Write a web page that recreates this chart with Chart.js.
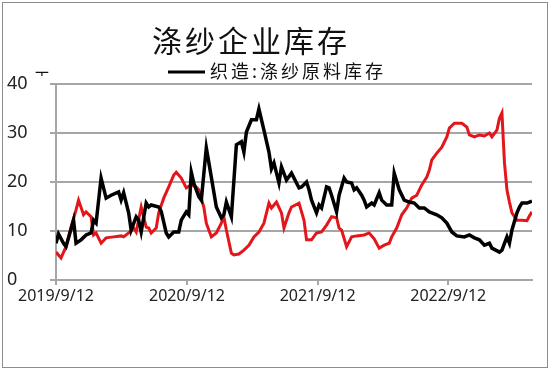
<!DOCTYPE html>
<html>
<head>
<meta charset="utf-8">
<script src="https://cdn.jsdelivr.net/npm/chart.js@4/dist/chart.umd.min.js"></script>
<style>
  body { margin: 0; background: #fff; }
  #wrap { width: 550px; height: 371px; }
</style>
</head>
<body>
<div id="wrap"><canvas id="chart" width="550" height="371"></canvas></div>
<script>
// weeks counted from 2019/9/12
const startDate = '2019/9/12';
const tickDates = ['2019/9/12', '2020/9/12', '2021/9/12', '2022/9/12'];

const blackWeeks = [0, 1, 3, 4, 7, 8, 10, 12, 14, 15, 16, 18, 20, 22, 25, 26, 27, 29, 30, 32,
  33, 34, 36, 37, 38, 41, 42, 44, 45, 47, 49, 50, 52, 53, 54, 55, 56, 57, 58, 60,
  62, 64, 66, 67, 68, 70, 72, 74, 75, 76, 78, 80, 81, 83, 85, 86, 87, 89, 90, 92,
  94, 96, 97, 98, 100, 101, 102, 104, 105, 106, 108, 109, 110, 112, 113, 115, 116, 118, 119, 120,
  122, 123, 124, 126, 127, 129, 130, 132, 134, 135, 137, 139, 141, 143, 145, 147, 149, 150, 152, 154,
  156, 158, 160, 163, 165, 167, 169, 171, 173, 174, 177, 178, 180, 181, 182, 184, 185, 186, 188, 190];
const blackValues = [7.5, 9.4, 7.5, 6.8, 12.2, 7.5, 8.2, 9.2, 9.6, 12.2, 11.6, 20.8, 16.7, 17.3, 18.0, 16.3, 17.8, 13.7, 10.2, 12.9,
  12.2, 9.8, 15.7, 14.9, 15.3, 14.9, 14.0, 9.6, 8.8, 9.8, 9.8, 12.2, 13.9, 13.3, 22.0, 19.8, 18.4, 17.0, 16.3, 27.0,
  21.0, 14.9, 12.7, 13.3, 15.9, 12.9, 27.6, 28.2, 26.1, 30.2, 32.7, 32.7, 34.9, 30.6, 26.1, 22.7, 23.9, 19.8, 23.1, 20.4,
  21.8, 19.8, 18.8, 19.0, 20.0, 18.4, 16.3, 13.7, 15.3, 14.7, 19.0, 18.8, 17.3, 13.9, 17.3, 20.8, 20.0, 19.8, 18.4, 18.8,
  17.3, 16.3, 14.9, 15.7, 15.3, 17.8, 16.3, 15.3, 15.3, 21.8, 18.4, 16.3, 15.9, 15.7, 14.7, 14.7, 13.9, 13.7, 13.3, 12.7,
  11.6, 9.8, 9.0, 8.8, 9.2, 8.6, 8.2, 7.1, 7.5, 6.5, 5.7, 6.1, 8.8, 7.5, 10.2, 13.7, 14.9, 15.7, 15.7, 16.1];

const redWeeks = [0, 2, 4, 6, 8, 9, 11, 12, 14, 15, 16, 18, 20, 23, 26, 27, 29, 31, 32, 34,
  36, 37, 38, 40, 41, 43, 45, 47, 48, 50, 52, 54, 56, 57, 59, 60, 62, 64, 66, 67,
  68, 70, 71, 73, 75, 77, 79, 81, 83, 85, 86, 88, 90, 91, 93, 94, 97, 99, 100, 102,
  104, 106, 108, 110, 112, 113, 114, 116, 118, 120, 123, 125, 127, 129, 131, 133, 134, 136, 138, 140,
  142, 144, 146, 148, 149, 150, 152, 154, 156, 157, 159, 162, 164, 165, 167, 169, 171, 173, 174, 176,
  177, 178, 179, 180, 181, 182, 184, 186, 188, 189, 190];
const redValues = [5.7, 4.5, 6.8, 10.8, 14.3, 16.3, 13.3, 13.9, 12.9, 9.2, 9.6, 7.5, 8.6, 8.8, 9.0, 8.8, 9.6, 10.6, 9.8, 14.9,
  10.8, 10.6, 9.6, 10.6, 13.7, 16.7, 19.0, 21.4, 22.0, 20.8, 18.8, 19.4, 19.0, 18.4, 14.9, 11.6, 8.8, 9.6, 11.6, 12.9,
  10.2, 5.5, 5.1, 5.3, 6.1, 7.1, 8.8, 9.8, 11.6, 15.7, 14.7, 15.9, 13.7, 10.6, 13.7, 14.9, 15.7, 12.2, 8.2, 8.2,
  9.6, 9.8, 11.2, 12.9, 12.7, 10.6, 10.2, 6.8, 8.8, 9.0, 9.2, 9.6, 8.4, 6.5, 7.1, 7.5, 8.8, 10.6, 13.3, 14.7,
  16.7, 17.3, 19.4, 21.0, 22.4, 24.5, 25.9, 27.1, 29.2, 31.0, 32.0, 32.0, 31.2, 29.6, 29.2, 29.6, 29.4, 30.0, 29.2, 30.6,
  33.0, 34.1, 24.0, 18.4, 15.9, 13.7, 12.2, 12.2, 12.1, 13.1, 13.9];

const yTicks = [0, 10, 20, 30, 40];

function weeksFrom(d) {
  return (new Date(d) - new Date(startDate)) / (7 * 24 * 3600 * 1000);
}
const tickWeeks = tickDates.map(weeksFrom);

function toPoints(weeks, values) {
  return weeks.map((w, i) => ({ x: w, y: values[i] }));
}

const gridColor = '#a6a6a6';

// title, legend, unit and outer frame
const decorPlugin = {
  id: 'decor',
  afterDraw(chart) {
    const ctx = chart.ctx;
    ctx.save();
    ctx.strokeStyle = '#8c8c8c';
    ctx.lineWidth = 1;
    ctx.strokeRect(2.5, 2.5, 545, 365);

    ctx.fillStyle = '#111';
    ctx.textBaseline = 'middle';
    ctx.textAlign = 'center';
    ctx.font = '30px "Noto Sans CJK SC"';
    ctx.letterSpacing = '3px';
    ctx.fillText('涤纱企业库存', 251, 41);

    ctx.strokeStyle = '#000';
    ctx.lineWidth = 3;
    ctx.beginPath();
    ctx.moveTo(168, 72);
    ctx.lineTo(205, 72);
    ctx.stroke();
    ctx.textAlign = 'left';
    ctx.font = '18px "Noto Sans CJK SC"';
    ctx.letterSpacing = '3px';
    ctx.fillText('织造:涤纱原料库存', 210, 71);

    ctx.letterSpacing = '0px';
    ctx.beginPath();
    ctx.rect(30, 60, 20, 16);
    ctx.clip();
    ctx.font = '16px "Noto Sans CJK SC"';
    ctx.textAlign = 'center';
    ctx.fillText('天', 42, 78);
    ctx.restore();
  }
};

new Chart(document.getElementById('chart'), {
  type: 'line',
  data: {
    datasets: [
      {
        label: '织造:涤纱原料库存',
        data: toPoints(blackWeeks, blackValues),
        borderColor: '#000',
        backgroundColor: '#000',
        borderWidth: 3.5,
        pointRadius: 0,
        tension: 0
      },
      {
        label: '',
        data: toPoints(redWeeks, redValues),
        borderColor: '#e3171b',
        backgroundColor: '#e3171b',
        borderWidth: 3,
        pointRadius: 0,
        tension: 0
      }
    ]
  },
  options: {
    responsive: false,
    animation: false,
    layout: { padding: { top: 84, left: 7, right: 18, bottom: 61 } },
    plugins: {
      legend: { display: false },
      title: { display: false },
      tooltip: { enabled: false }
    },
    scales: {
      x: {
        type: 'linear',
        min: 0,
        max: 190,
        afterFit(scale) { scale.height = 30; },
        afterBuildTicks(scale) {
          scale.ticks = tickWeeks.map(v => ({ value: v }));
        },
        ticks: {
          autoSkip: false,
          maxRotation: 0,
          padding: 2,
          color: '#222',
          font: { family: 'Noto Sans', size: 16 },
          callback: (v, i) => tickDates[i]
        },
        grid: { drawOnChartArea: false, color: gridColor, lineWidth: 2, tickLength: 5 },
        border: { color: gridColor, width: 2 }
      },
      y: {
        min: 0,
        max: 40,
        afterFit(scale) { scale.width = 49; },
        afterBuildTicks(scale) {
          scale.ticks = yTicks.map(v => ({ value: v }));
        },
        ticks: {
          crossAlign: 'far',
          color: '#222',
          font: { family: 'Noto Sans', size: 18 }
        },
        grid: { color: gridColor, lineWidth: 2, tickLength: 6 },
        border: { color: gridColor, width: 2 }
      }
    }
  },
  plugins: [decorPlugin]
});
</script>
</body>
</html>
